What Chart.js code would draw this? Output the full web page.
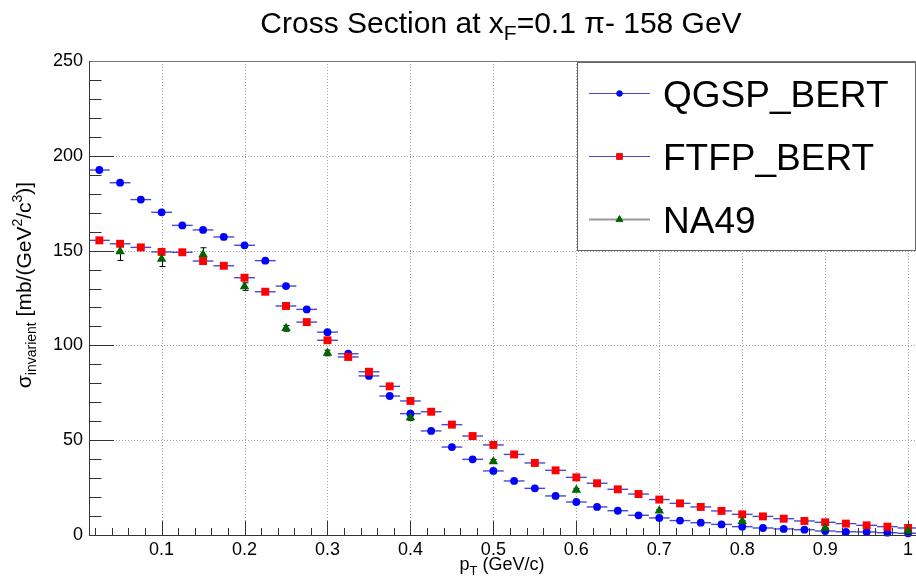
<!DOCTYPE html>
<html>
<head>
<meta charset="utf-8">
<title>Cross Section at xF=0.1</title>
<script src="https://cdn.jsdelivr.net/npm/chart.js@4"></script>
<style>
  body { margin: 0; background: #fff; }
  canvas { display: block; }
</style>
</head>
<body>
<canvas id="chart" width="916" height="584"></canvas>
<script>
'use strict';

// bin centres in pT (GeV/c), bin width 0.025
const pt = [0.025, 0.05, 0.075, 0.1, 0.125, 0.15, 0.175, 0.2, 0.225, 0.25,
            0.275, 0.3, 0.325, 0.35, 0.375, 0.4, 0.425, 0.45, 0.475, 0.5,
            0.525, 0.55, 0.575, 0.6, 0.625, 0.65, 0.675, 0.7, 0.725, 0.75,
            0.775, 0.8, 0.825, 0.85, 0.875, 0.9, 0.925, 0.95, 0.975, 1.0];
const binHalfWidth = 0.0125;

const qgspBert = [192.5, 185.8, 176.9, 170.2, 163.3, 160.9, 157.2, 152.8, 144.7, 131.3,
                  119.0, 107.0, 95.6, 83.9, 73.3, 64.0, 54.9, 46.4, 39.9, 33.8,
                  28.5, 24.6, 20.6, 17.4, 14.8, 12.8, 10.4, 9.0, 7.6, 6.5,
                  5.6, 4.4, 3.7, 3.2, 2.8, 2.1, 1.7, 1.6, 1.2, 0.9];

const ftfpBert = [155.4, 153.6, 151.7, 149.3, 149.1, 144.5, 142.0, 135.7, 128.3, 120.8,
                  112.3, 102.7, 93.9, 86.1, 78.4, 70.7, 65.0, 58.2, 52.2, 47.5,
                  42.5, 38.0, 34.1, 30.4, 27.3, 24.1, 21.6, 18.7, 16.7, 14.8,
                  12.7, 10.9, 9.8, 8.6, 7.4, 6.7, 6.0, 5.1, 4.4, 3.7];

// NA49 measurement
const na49Pt  = [0.05, 0.1, 0.15, 0.2, 0.25, 0.3, 0.4, 0.5, 0.6, 0.7, 0.8, 0.9, 1.0];
const na49    = [149.5, 145.6, 148.0, 131.0, 109.0, 96.0, 62.0, 38.8, 23.8, 12.8, 7.2, 3.6, 2.2];
const na49Err = [4.7, 4.0, 3.5, 2.0, 1.5, 1.5, 1.5, 1.0, 0.8, 0.6, 0.4, 0.3, 0.2];

const xTicks = [0.1, 0.2, 0.3, 0.4, 0.5, 0.6, 0.7, 0.8, 0.9, 1.0];
const xTickLabels = ['0.1', '0.2', '0.3', '0.4', '0.5', '0.6', '0.7', '0.8', '0.9', '1'];
const yTicks = [0, 50, 100, 150, 200, 250];
const yTickLabels = ['0', '50', '100', '150', '200', '250'];

const FONT = '"Liberation Sans", Arial, Helvetica, sans-serif';
const BAR_COLOR = 'rgba(40, 40, 200, 0.85)';

const series = [
    { label: 'QGSP_BERT', x: pt, y: qgspBert, color: '#0000ff', shape: 'circle', radius: 3.9, legendRadius: 3, line: BAR_COLOR, lineWidth: 1 },
    { label: 'FTFP_BERT', x: pt, y: ftfpBert, color: '#ff0000', shape: 'rect', radius: 5.6, legendRadius: 4.5, line: BAR_COLOR, lineWidth: 1 },
    { label: 'NA49', x: na49Pt, y: na49, color: '#006400', shape: 'triangle', radius: 5.5, legendRadius: 4.5, line: '#999999', lineWidth: 2 }
];

// draws a run of text pieces, each with its own size and vertical shift
function richText(ctx, parts, x, y, align) {
    let total = 0;
    parts.forEach(p => {
        ctx.font = p.size + 'px ' + FONT;
        p.w = ctx.measureText(p.t).width;
        total += p.w;
    });
    let cx = align === 'center' ? x - total / 2 : x;
    ctx.textAlign = 'left';
    ctx.textBaseline = 'alphabetic';
    parts.forEach(p => {
        ctx.font = p.size + 'px ' + FONT;
        ctx.fillText(p.t, cx, y + (p.dy || 0));
        cx += p.w;
    });
}

const rootStyle = {
    id: 'rootStyle',
    beforeDatasetsDraw(chart) {
        const ctx = chart.ctx;
        const a = chart.chartArea;
        const xs = chart.scales.x;
        const ys = chart.scales.y;
        ctx.save();

        // dotted grid at major ticks
        ctx.strokeStyle = '#a0a0a0';
        ctx.lineWidth = 1;
        ctx.setLineDash([1, 2]);
        xTicks.forEach(v => {
            const px = Math.round(xs.getPixelForValue(v)) + 0.5;
            ctx.beginPath();
            ctx.moveTo(px, a.top);
            ctx.lineTo(px, a.bottom);
            ctx.stroke();
        });
        yTicks.slice(1, -1).forEach(v => {
            const py = Math.round(ys.getPixelForValue(v)) + 0.5;
            ctx.beginPath();
            ctx.moveTo(a.left, py);
            ctx.lineTo(a.right, py);
            ctx.stroke();
        });
        ctx.setLineDash([]);

        // tick marks inside the frame
        ctx.strokeStyle = '#333333';
        for (let v = 0; v <= 250; v += 10) {
            const py = Math.round(ys.getPixelForValue(v)) + 0.5;
            const len = v % 50 === 0 ? 25 : 12.5;
            ctx.beginPath();
            ctx.moveTo(a.left, py);
            ctx.lineTo(a.left + len, py);
            ctx.stroke();
        }
        for (let i = 1; i <= 50; i++) {
            const v = i * 0.02;
            const px = Math.round(xs.getPixelForValue(v)) + 0.5;
            const len = i % 5 === 0 ? 14 : 7;
            ctx.beginPath();
            ctx.moveTo(px, a.bottom);
            ctx.lineTo(px, a.bottom - len);
            ctx.stroke();
        }

        // horizontal bin-width bars for the simulations
        ctx.strokeStyle = BAR_COLOR;
        ctx.lineWidth = 1.4;
        [qgspBert, ftfpBert].forEach(vals => {
            vals.forEach((v, i) => {
                const py = ys.getPixelForValue(v);
                ctx.beginPath();
                ctx.moveTo(xs.getPixelForValue(pt[i] - binHalfWidth), py);
                ctx.lineTo(xs.getPixelForValue(pt[i] + binHalfWidth), py);
                ctx.stroke();
            });
        });

        // vertical error bars for the data
        ctx.strokeStyle = '#000000';
        ctx.lineWidth = 1;
        na49.forEach((v, i) => {
            const px = Math.round(xs.getPixelForValue(na49Pt[i])) + 0.5;
            const lo = ys.getPixelForValue(v - na49Err[i]);
            const hi = ys.getPixelForValue(v + na49Err[i]);
            ctx.beginPath();
            ctx.moveTo(px, lo);
            ctx.lineTo(px, hi);
            ctx.moveTo(px - 3, lo);
            ctx.lineTo(px + 3, lo);
            ctx.moveTo(px - 3, hi);
            ctx.lineTo(px + 3, hi);
            ctx.stroke();
        });
        ctx.restore();
    },
    afterDraw(chart) {
        const ctx = chart.ctx;
        const a = chart.chartArea;
        ctx.save();

        // frame
        ctx.lineWidth = 1;
        ctx.strokeStyle = '#777777';
        ctx.beginPath();
        ctx.moveTo(a.left, a.top + 0.5);
        ctx.lineTo(a.right, a.top + 0.5);
        ctx.stroke();
        ctx.strokeStyle = '#333333';
        ctx.beginPath();
        ctx.moveTo(a.left + 0.5, a.top);
        ctx.lineTo(a.left + 0.5, a.bottom);
        ctx.moveTo(a.left, a.bottom + 0.5);
        ctx.lineTo(a.right, a.bottom + 0.5);
        ctx.stroke();

        // legend box
        const lx = 577, ly = 62, lw = 338, lh = 188;
        ctx.fillStyle = '#ffffff';
        ctx.fillRect(lx, ly, lw, lh);
        ctx.strokeStyle = '#666666';
        ctx.strokeRect(lx + 0.5, ly + 0.5, lw, lh);
        series.forEach((s, i) => {
            const cy = 93 + i * 63;
            ctx.strokeStyle = s.line;
            ctx.lineWidth = s.lineWidth;
            ctx.beginPath();
            ctx.moveTo(589, cy + 0.5);
            ctx.lineTo(650, cy + 0.5);
            ctx.stroke();
            ctx.fillStyle = s.color;
            Chart.helpers.drawPoint(ctx, {
                pointStyle: s.shape, radius: s.legendRadius, rotation: 0, borderWidth: 0
            }, 619.5, cy + 0.5);
            ctx.fill();
            ctx.fillStyle = '#000000';
            richText(ctx, [{ t: s.label, size: 37 }], 663, cy + 13.5, 'left');
        });

        // titles
        ctx.fillStyle = '#000000';
        richText(ctx, [
            { t: 'Cross Section at x', size: 30 },
            { t: 'F', size: 21, dy: 7 },
            { t: '=0.1 \u03c0- 158 GeV', size: 30 }
        ], 501, 33, 'center');

        richText(ctx, [
            { t: 'p', size: 18 },
            { t: 'T', size: 13, dy: 5 },
            { t: ' (GeV/c)', size: 18 }
        ], 502, 570, 'center');

        ctx.translate(31, 285);
        ctx.rotate(-Math.PI / 2);
        richText(ctx, [
            { t: '\u03c3', size: 21 },
            { t: 'invarient', size: 14, dy: 5 },
            { t: ' [mb/(GeV', size: 21 },
            { t: '2', size: 14, dy: -9 },
            { t: '/c', size: 21 },
            { t: '3', size: 14, dy: -9 },
            { t: ')]', size: 21 }
        ], 0, 0, 'center');
        ctx.restore();
    }
};

const ctx = document.getElementById('chart');

new Chart(ctx, {
    type: 'scatter',
    data: {
        datasets: series.map((s, k) => ({
            label: s.label,
            data: s.x.map((x, i) => ({ x: x, y: s.y[i] })),
            pointStyle: s.shape,
            pointRadius: s.radius,
            pointBackgroundColor: s.color,
            pointBorderWidth: 0,
            showLine: false,
            clip: false,
            order: series.length - k
        }))
    },
    plugins: [rootStyle],
    options: {
        responsive: false,
        animation: false,
        events: [],
        layout: { autoPadding: false, padding: { left: 0, top: 61, right: 0, bottom: 0 } },
        plugins: {
            legend: { display: false },
            title: { display: false },
            tooltip: { enabled: false }
        },
        scales: {
            x: {
                type: 'linear',
                min: 0.0125,
                max: 1.0095,
                afterBuildTicks: (s) => { s.ticks = xTicks.map(v => ({ value: v })); },
                afterFit: (s) => { s.height = 49; s.paddingLeft = 0; s.paddingRight = 0; },
                grid: { display: false, drawTicks: false },
                border: { display: false },
                ticks: {
                    autoSkip: false,
                    maxRotation: 0,
                    padding: 4,
                    color: '#000000',
                    font: { family: FONT, size: 18 },
                    callback: (v, i) => xTickLabels[i]
                }
            },
            y: {
                type: 'linear',
                min: 0,
                max: 250,
                afterBuildTicks: (s) => { s.ticks = yTicks.map(v => ({ value: v })); },
                afterFit: (s) => { s.width = 89; s.paddingTop = 0; s.paddingBottom = 0; },
                grid: { display: false, drawTicks: false },
                border: { display: false },
                ticks: {
                    padding: 6,
                    color: '#000000',
                    font: { family: FONT, size: 18 },
                    callback: (v, i) => yTickLabels[i]
                }
            }
        }
    }
});
</script>
</body>
</html>
